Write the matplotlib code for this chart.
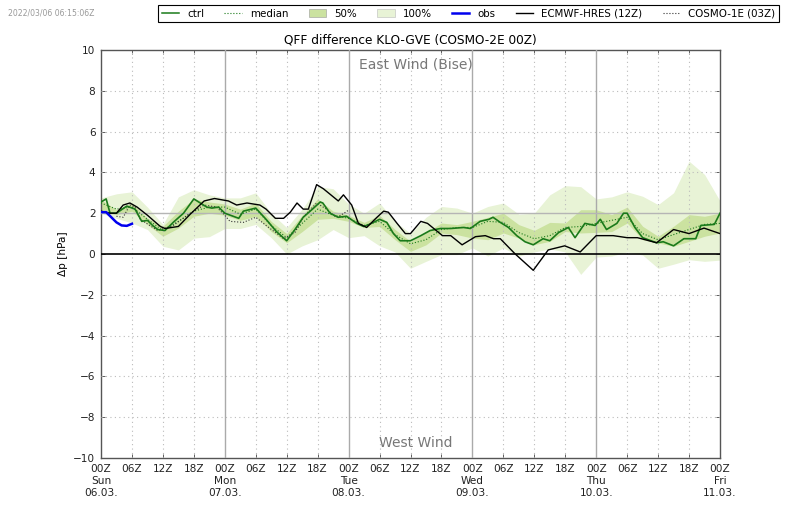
import numpy as np
import matplotlib
matplotlib.use("Agg")
import matplotlib.pyplot as plt
from matplotlib.patches import Patch
from matplotlib.lines import Line2D

# 3-hourly ensemble statistics
band_hours = list(range(0, 123, 3))
ens_max = [2.75, 2.95, 3.05, 2.3, 1.45, 2.8, 3.15, 2.9, 2.75, 2.75, 3.0, 2.0, 1.3, 2.2,
           3.3, 3.2, 2.45, 2.0, 2.5, 1.6, 1.0, 1.8, 2.33, 2.25, 2.0, 2.33, 2.5,
           1.95, 2.0, 2.9, 3.35, 3.3, 2.7, 2.8, 3.05, 2.83, 2.42, 3.0, 4.55, 3.9, 2.6]
ens_min = [2.0, 1.75, 1.52, 1.2, 0.38, 0.2, 0.78, 0.85, 1.25, 1.25, 1.45, 0.8, 0.0, 0.4,
           0.7, 1.2, 0.8, 0.9, 0.4, 0.1, -0.7, -0.36, -0.03, -0.03, 0.3, -0.1, 0.3,
           -0.1, 0.1, 0.25, 0.1, -1.0, -0.15, -0.1, 0.1, -0.05, -0.7, -0.5, -0.28, -0.36, -0.3]
q75 = [2.66, 2.17, 2.5, 1.76, 1.36, 2.1, 2.7, 2.55, 2.45, 2.2, 2.5, 1.6, 1.0, 1.9,
       2.7, 2.1, 1.9, 1.55, 1.9, 1.2, 0.62, 1.06, 1.52, 1.44, 1.6, 1.8, 2.0,
       1.44, 1.16, 1.55, 1.52, 2.17, 2.17, 1.93, 2.3, 1.36, 0.87, 1.36, 1.93, 1.85, 2.0]
q25 = [2.1, 1.93, 2.1, 1.44, 0.87, 1.27, 1.85, 2.0, 1.9, 1.65, 1.85, 1.1, 0.55, 1.1,
       1.7, 1.75, 1.6, 1.3, 1.35, 0.7, 0.13, 0.45, 1.03, 0.95, 0.78, 0.7, 1.03,
       0.78, 0.46, 0.62, 1.1, 1.03, 1.06, 1.1, 1.52, 0.7, 0.54, 0.38, 0.62, 0.87, 1.03]
median = [2.5, 2.2, 2.3, 1.7, 1.15, 1.6, 2.1, 2.3, 2.3, 1.95, 2.2, 1.4, 0.8, 1.5,
          2.2, 1.9, 1.75, 1.4, 1.6, 0.95, 0.5, 0.7, 1.2, 1.3, 1.3, 1.6, 1.55,
          1.05, 0.75, 0.9, 1.3, 1.35, 1.5, 1.65, 1.8, 1.0, 0.7, 0.95, 1.2, 1.45, 1.5]

ctrl_hours = [0, 1, 1.75, 3, 5, 6.6, 7.9, 9, 10, 11, 12.4, 14, 16, 18, 20.5, 21.5, 22.8, 24,
              26.7, 27.6, 30, 32, 34, 36, 37.6, 39.2, 41, 42.5, 43, 44.4, 46, 47.6, 49.6,
              50.9, 52, 54, 55.4, 56.7, 58, 60, 62, 63.8, 65.8, 67.8, 70.3, 71.6, 73.5,
              75.2, 76, 77.4, 79, 80.6, 82.2, 83.8, 85.7, 87, 88.7, 90.6, 91.9, 93.8,
              95.8, 96.8, 98, 100, 101.3, 102, 103.5, 105, 107.7, 109, 111, 113, 115.3,
              116.3, 118.9, 120]
ctrl = [2.55, 2.7, 2.0, 2.0, 2.35, 2.2, 1.6, 1.65, 1.4, 1.2, 1.15, 1.55, 2.0, 2.7, 2.3, 2.25,
        2.3, 2.0, 1.75, 2.1, 2.25, 1.7, 1.1, 0.65, 1.2, 1.8, 2.2, 2.55, 2.5, 2.0, 1.8, 1.85,
        1.5, 1.35, 1.45, 1.7, 1.55, 1.0, 0.65, 0.65, 0.9, 1.15, 1.25, 1.25, 1.3, 1.25, 1.6,
        1.7, 1.8, 1.55, 1.3, 0.9, 0.6, 0.45, 0.75, 0.65, 1.05, 1.3, 0.8, 1.5, 1.4, 1.7, 1.2,
        1.5, 2.0, 2.0, 1.3, 0.8, 0.55, 0.6, 0.4, 0.75, 0.75, 1.4, 1.45, 2.0]

ecmwf_hours = [0, 1.75, 3, 4.3, 5.6, 7, 9, 11.5, 12.4, 15, 17.3, 20, 22, 24.7, 26.3, 28.3, 30.8,
               32, 33.8, 35.4, 36.7, 38, 39.2, 40.2, 41.8, 43.1, 46, 47, 48.6, 49.9, 51.5,
               53.5, 54.8, 55.7, 57.4, 59, 60, 62, 63.3, 66.2, 67.8, 70, 72.6, 74.5, 76.1,
               77.4, 80.3, 83.8, 86.7, 89.9, 92.9, 96, 99.3, 102, 104, 107.7, 111, 114,
               116.9, 120]
ecmwf = [2.1, 2.0, 2.0, 2.4, 2.5, 2.3, 1.9, 1.35, 1.25, 1.35, 1.95, 2.6, 2.72, 2.6, 2.4, 2.5,
         2.4, 2.2, 1.75, 1.75, 2.05, 2.5, 2.2, 2.2, 3.4, 3.2, 2.6, 2.9, 2.4, 1.5, 1.3, 1.8,
         2.1, 2.05, 1.5, 1.0, 1.0, 1.6, 1.5, 0.9, 0.9, 0.45, 0.85, 0.9, 0.75, 0.75, 0.0, -0.8,
         0.2, 0.4, 0.1, 0.9, 0.9, 0.8, 0.8, 0.55, 1.2, 1.0, 1.27, 1.0]

cosmo1_hours = [3, 4.3, 5.6, 6.6, 7.6, 11, 14, 17.3, 20, 22.4, 24, 25, 27.6, 30, 32, 35.4,
                37.6, 39.2, 41.8, 43.7, 45.6, 46.5, 48]
cosmo1 = [1.85, 1.8, 2.4, 2.3, 1.7, 1.15, 1.4, 2.0, 2.4, 2.3, 1.9, 1.6, 1.55, 1.8, 1.4, 0.75,
          1.05, 1.8, 2.5, 2.2, 1.8, 1.9, 2.15]

obs_hours = [0, 1, 2, 3, 4, 5, 6]
obs = [2.05, 2.05, 1.8, 1.55, 1.4, 1.38, 1.48]

days = ["Sun\n06.03.", "Mon\n07.03.", "Tue\n08.03.", "Wed\n09.03.", "Thu\n10.03.", "Fri\n11.03."]
hour_labels = ["00Z", "06Z", "12Z", "18Z"]

GREEN = "#1a7a1a"
DOTS = (0, (1, 3))

fig = plt.figure(figsize=(8, 5.09), dpi=100)
ax = fig.add_axes([101 / 800, 1 - 458 / 509, 619 / 800, 408 / 509])

ax.fill_between(band_hours, ens_min, ens_max, color="#e8f3d6", lw=0, zorder=1)
ax.fill_between(band_hours, q25, q75, color="#cbe2a0", lw=0, zorder=2)

# grid, drawn by hand because of the different day and hour lines
for h in range(6, 120, 6):
    if h % 24 == 0:
        ax.axvline(h, color="#aaaaaa", lw=1, zorder=3)
    else:
        ax.axvline(h, color="#bbbbbb", lw=0.8, ls=DOTS, zorder=3)
for v in range(-8, 10, 2):
    if v == 0:
        continue
    if v == 2:
        ax.axhline(v, color="#b5b5b5", lw=1, zorder=3)
    else:
        ax.axhline(v, color="#bbbbbb", lw=0.8, ls=DOTS, zorder=3)
ax.axhline(0, color="black", lw=1.2, zorder=4)

ax.plot(band_hours, median, color=GREEN, lw=0.8, ls=":", zorder=5)
ax.plot(cosmo1_hours, cosmo1, color="#333333", lw=0.8, ls=":", zorder=5)
ax.plot(ctrl_hours, ctrl, color=GREEN, lw=1.2, zorder=6)
ax.plot(ecmwf_hours, ecmwf, color="black", lw=1, zorder=7)
ax.plot(obs_hours, obs, color="#0000ee", lw=1.8, zorder=8)

ax.set_xlim(0, 120)
ax.set_ylim(-10, 10)
ax.set_yticks(range(-10, 11, 2))
ticks = list(range(0, 121, 6))
labels = []
for h in ticks:
    lab = hour_labels[(h % 24) // 6]
    if h % 24 == 0:
        lab += "\n" + days[h // 24]
    labels.append(lab)
ax.set_xticks(ticks)
ax.set_xticklabels(labels, fontsize=7.6, color="#222222", linespacing=1.25)
ax.tick_params(axis="x", direction="in", top=True, length=3, width=0.6, pad=4, color="#444444")
ax.tick_params(axis="y", direction="in", right=True, length=3, width=0.6, labelsize=7.6, pad=4,
               color="#444444", labelcolor="#222222")
for s in ax.spines.values():
    s.set_color("#555555")
    s.set_linewidth(1)

ax.set_ylabel("\u0394p [hPa]", fontsize=7.6, labelpad=4)
ax.set_title("QFF difference KLO-GVE (COSMO-2E 00Z)", fontsize=8.7, pad=5)
ax.text(61, 9.3, "East Wind (Bise)", color="#777777", fontsize=10, ha="center", va="center", zorder=9)
ax.text(61, -9.25, "West Wind", color="#777777", fontsize=10, ha="center", va="center", zorder=9)

fig.text(8 / 800, 1 - 13 / 509, "2022/03/06 06:15:06Z", color="#999999", fontsize=5.6, va="center")

handles = [
    Line2D([], [], color=GREEN, lw=1.1),
    Line2D([], [], color=GREEN, lw=0.8, ls=":"),
    Patch(facecolor="#cbe2a0", edgecolor="#999999", lw=0.4),
    Patch(facecolor="#e8f3d6", edgecolor="#bbbbbb", lw=0.4),
    Line2D([], [], color="#0000ee", lw=1.8),
    Line2D([], [], color="black", lw=1),
    Line2D([], [], color="#333333", lw=0.8, ls=":"),
]
names = ["ctrl", "median", "50%", "100%", "obs", "ECMWF-HRES (12Z)", "COSMO-1E (03Z)"]
leg = fig.legend(handles, names, ncol=7, loc="upper right", bbox_to_anchor=(779 / 800, 1 - 5 / 509),
                 fontsize=7.4, frameon=True, fancybox=False, framealpha=1, edgecolor="black",
                 borderaxespad=0, columnspacing=1.95, handlelength=1.7, handletextpad=0.8,
                 borderpad=0.35)
leg.get_frame().set_linewidth(0.8)

fig.savefig("out.png", dpi=100)
